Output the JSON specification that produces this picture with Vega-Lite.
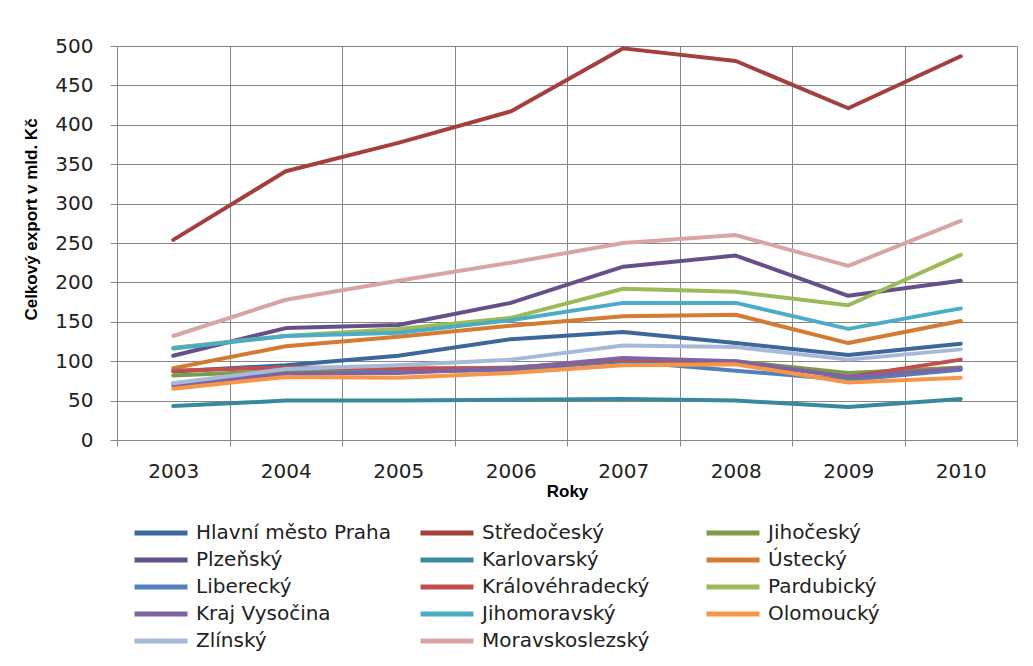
{
  "$schema": "https://vega.github.io/schema/vega-lite/v6.json",
  "autosize": {"type": "none"},
  "width": 900,
  "height": 394,
  "padding": {"left": 117, "top": 46, "right": 16, "bottom": 226},
  "background": "white",
  "data": {"values": [
    {"kraj": "Hlavní město Praha", "rok": "2003", "export": 87},
    {"kraj": "Hlavní město Praha", "rok": "2004", "export": 95},
    {"kraj": "Hlavní město Praha", "rok": "2005", "export": 107},
    {"kraj": "Hlavní město Praha", "rok": "2006", "export": 128},
    {"kraj": "Hlavní město Praha", "rok": "2007", "export": 137},
    {"kraj": "Hlavní město Praha", "rok": "2008", "export": 123},
    {"kraj": "Hlavní město Praha", "rok": "2009", "export": 108},
    {"kraj": "Hlavní město Praha", "rok": "2010", "export": 122},
    {"kraj": "Středočeský", "rok": "2003", "export": 254},
    {"kraj": "Středočeský", "rok": "2004", "export": 341},
    {"kraj": "Středočeský", "rok": "2005", "export": 377},
    {"kraj": "Středočeský", "rok": "2006", "export": 417},
    {"kraj": "Středočeský", "rok": "2007", "export": 497},
    {"kraj": "Středočeský", "rok": "2008", "export": 481},
    {"kraj": "Středočeský", "rok": "2009", "export": 421},
    {"kraj": "Středočeský", "rok": "2010", "export": 487},
    {"kraj": "Jihočeský", "rok": "2003", "export": 82},
    {"kraj": "Jihočeský", "rok": "2004", "export": 88},
    {"kraj": "Jihočeský", "rok": "2005", "export": 89},
    {"kraj": "Jihočeský", "rok": "2006", "export": 92},
    {"kraj": "Jihočeský", "rok": "2007", "export": 100},
    {"kraj": "Jihočeský", "rok": "2008", "export": 100},
    {"kraj": "Jihočeský", "rok": "2009", "export": 85},
    {"kraj": "Jihočeský", "rok": "2010", "export": 92},
    {"kraj": "Plzeňský", "rok": "2003", "export": 107},
    {"kraj": "Plzeňský", "rok": "2004", "export": 142},
    {"kraj": "Plzeňský", "rok": "2005", "export": 146},
    {"kraj": "Plzeňský", "rok": "2006", "export": 174},
    {"kraj": "Plzeňský", "rok": "2007", "export": 220},
    {"kraj": "Plzeňský", "rok": "2008", "export": 234},
    {"kraj": "Plzeňský", "rok": "2009", "export": 183},
    {"kraj": "Plzeňský", "rok": "2010", "export": 202},
    {"kraj": "Karlovarský", "rok": "2003", "export": 43},
    {"kraj": "Karlovarský", "rok": "2004", "export": 50},
    {"kraj": "Karlovarský", "rok": "2005", "export": 50},
    {"kraj": "Karlovarský", "rok": "2006", "export": 51},
    {"kraj": "Karlovarský", "rok": "2007", "export": 52},
    {"kraj": "Karlovarský", "rok": "2008", "export": 50},
    {"kraj": "Karlovarský", "rok": "2009", "export": 42},
    {"kraj": "Karlovarský", "rok": "2010", "export": 52},
    {"kraj": "Ústecký", "rok": "2003", "export": 91},
    {"kraj": "Ústecký", "rok": "2004", "export": 119},
    {"kraj": "Ústecký", "rok": "2005", "export": 131},
    {"kraj": "Ústecký", "rok": "2006", "export": 145},
    {"kraj": "Ústecký", "rok": "2007", "export": 157},
    {"kraj": "Ústecký", "rok": "2008", "export": 159},
    {"kraj": "Ústecký", "rok": "2009", "export": 123},
    {"kraj": "Ústecký", "rok": "2010", "export": 151},
    {"kraj": "Liberecký", "rok": "2003", "export": 72},
    {"kraj": "Liberecký", "rok": "2004", "export": 84},
    {"kraj": "Liberecký", "rok": "2005", "export": 87},
    {"kraj": "Liberecký", "rok": "2006", "export": 89},
    {"kraj": "Liberecký", "rok": "2007", "export": 100},
    {"kraj": "Liberecký", "rok": "2008", "export": 88},
    {"kraj": "Liberecký", "rok": "2009", "export": 76},
    {"kraj": "Liberecký", "rok": "2010", "export": 89},
    {"kraj": "Královéhradecký", "rok": "2003", "export": 88},
    {"kraj": "Královéhradecký", "rok": "2004", "export": 92},
    {"kraj": "Královéhradecký", "rok": "2005", "export": 91},
    {"kraj": "Královéhradecký", "rok": "2006", "export": 91},
    {"kraj": "Královéhradecký", "rok": "2007", "export": 102},
    {"kraj": "Královéhradecký", "rok": "2008", "export": 99},
    {"kraj": "Královéhradecký", "rok": "2009", "export": 80},
    {"kraj": "Královéhradecký", "rok": "2010", "export": 102},
    {"kraj": "Pardubický", "rok": "2003", "export": 117},
    {"kraj": "Pardubický", "rok": "2004", "export": 132},
    {"kraj": "Pardubický", "rok": "2005", "export": 141},
    {"kraj": "Pardubický", "rok": "2006", "export": 155},
    {"kraj": "Pardubický", "rok": "2007", "export": 192},
    {"kraj": "Pardubický", "rok": "2008", "export": 188},
    {"kraj": "Pardubický", "rok": "2009", "export": 171},
    {"kraj": "Pardubický", "rok": "2010", "export": 235},
    {"kraj": "Kraj Vysočina", "rok": "2003", "export": 69},
    {"kraj": "Kraj Vysočina", "rok": "2004", "export": 84},
    {"kraj": "Kraj Vysočina", "rok": "2005", "export": 85},
    {"kraj": "Kraj Vysočina", "rok": "2006", "export": 91},
    {"kraj": "Kraj Vysočina", "rok": "2007", "export": 104},
    {"kraj": "Kraj Vysočina", "rok": "2008", "export": 100},
    {"kraj": "Kraj Vysočina", "rok": "2009", "export": 80},
    {"kraj": "Kraj Vysočina", "rok": "2010", "export": 91},
    {"kraj": "Jihomoravský", "rok": "2003", "export": 116},
    {"kraj": "Jihomoravský", "rok": "2004", "export": 132},
    {"kraj": "Jihomoravský", "rok": "2005", "export": 136},
    {"kraj": "Jihomoravský", "rok": "2006", "export": 152},
    {"kraj": "Jihomoravský", "rok": "2007", "export": 174},
    {"kraj": "Jihomoravský", "rok": "2008", "export": 174},
    {"kraj": "Jihomoravský", "rok": "2009", "export": 141},
    {"kraj": "Jihomoravský", "rok": "2010", "export": 167},
    {"kraj": "Olomoucký", "rok": "2003", "export": 65},
    {"kraj": "Olomoucký", "rok": "2004", "export": 80},
    {"kraj": "Olomoucký", "rok": "2005", "export": 79},
    {"kraj": "Olomoucký", "rok": "2006", "export": 85},
    {"kraj": "Olomoucký", "rok": "2007", "export": 95},
    {"kraj": "Olomoucký", "rok": "2008", "export": 96},
    {"kraj": "Olomoucký", "rok": "2009", "export": 73},
    {"kraj": "Olomoucký", "rok": "2010", "export": 79},
    {"kraj": "Zlínský", "rok": "2003", "export": 72},
    {"kraj": "Zlínský", "rok": "2004", "export": 90},
    {"kraj": "Zlínský", "rok": "2005", "export": 95},
    {"kraj": "Zlínský", "rok": "2006", "export": 102},
    {"kraj": "Zlínský", "rok": "2007", "export": 120},
    {"kraj": "Zlínský", "rok": "2008", "export": 118},
    {"kraj": "Zlínský", "rok": "2009", "export": 102},
    {"kraj": "Zlínský", "rok": "2010", "export": 115},
    {"kraj": "Moravskoslezský", "rok": "2003", "export": 132},
    {"kraj": "Moravskoslezský", "rok": "2004", "export": 178},
    {"kraj": "Moravskoslezský", "rok": "2005", "export": 202},
    {"kraj": "Moravskoslezský", "rok": "2006", "export": 225},
    {"kraj": "Moravskoslezský", "rok": "2007", "export": 250},
    {"kraj": "Moravskoslezský", "rok": "2008", "export": 260},
    {"kraj": "Moravskoslezský", "rok": "2009", "export": 221},
    {"kraj": "Moravskoslezský", "rok": "2010", "export": 278}
  ]},
  "mark": {"type": "line", "strokeWidth": 4, "strokeCap": "round", "strokeJoin": "round"},
  "encoding": {
    "x": {
      "field": "rok", "type": "ordinal", "bandPosition": 0.5,
      "scale": {"type": "band", "paddingInner": 0, "paddingOuter": 0},
      "axis": {
        "title": "Roky", "labelAngle": 0, "grid": true, "tickBand": "extent",
        "gridColor": "#868686", "tickColor": "#868686", "domainColor": "#868686",
        "tickSize": 6, "labelPadding": 15, "titlePadding": 2
      }
    },
    "y": {
      "field": "export", "type": "quantitative",
      "scale": {"domain": [0, 500], "nice": false},
      "axis": {
        "title": "Celkový export v mld. Kč", "values": [0, 50, 100, 150, 200, 250, 300, 350, 400, 450, 500],
        "grid": true, "gridColor": "#868686", "tickColor": "#868686", "domainColor": "#868686",
        "tickSize": 7, "labelPadding": 17, "titleX": -86, "titleY": 173, "titleBaseline": "middle"
      }
    },
    "color": {
      "field": "kraj", "type": "nominal",
      "scale": {
        "domain": ["Hlavní město Praha", "Středočeský", "Jihočeský", "Plzeňský", "Karlovarský", "Ústecký", "Liberecký", "Královéhradecký", "Pardubický", "Kraj Vysočina", "Jihomoravský", "Olomoucký", "Zlínský", "Moravskoslezský"],
        "range": ["#3C679A", "#A43F3D", "#7D9C47", "#65508A", "#38899E", "#D47A31", "#4F81BD", "#C0504D", "#9BBB59", "#8064A2", "#4BACC6", "#F79646", "#A7B9D9", "#D9A5A4"]
      },
      "legend": {
        "title": null, "orient": "none", "legendX": 15, "legendY": 476, "direction": "horizontal",
        "columns": 3, "gridAlign": "all", "columnPadding": 26, "rowPadding": 5, "clipHeight": 22, "padding": 0,
        "symbolType": "stroke", "symbolSize": 2809, "symbolStrokeWidth": 5,
        "labelOffset": 6, "labelFontSize": 20, "labelFont": "DejaVu Sans", "labelColor": "#222222", "labelLimit": 400
      }
    }
  },
  "config": {
    "view": {"stroke": null},
    "axis": {
      "labelFont": "DejaVu Sans", "labelFontSize": 20, "labelColor": "#222222",
      "titleFont": "Liberation Sans", "titleFontSize": 17, "titleFontWeight": "bold", "titleColor": "#000000",
      "gridWidth": 1, "domainWidth": 1
    }
  }
}
